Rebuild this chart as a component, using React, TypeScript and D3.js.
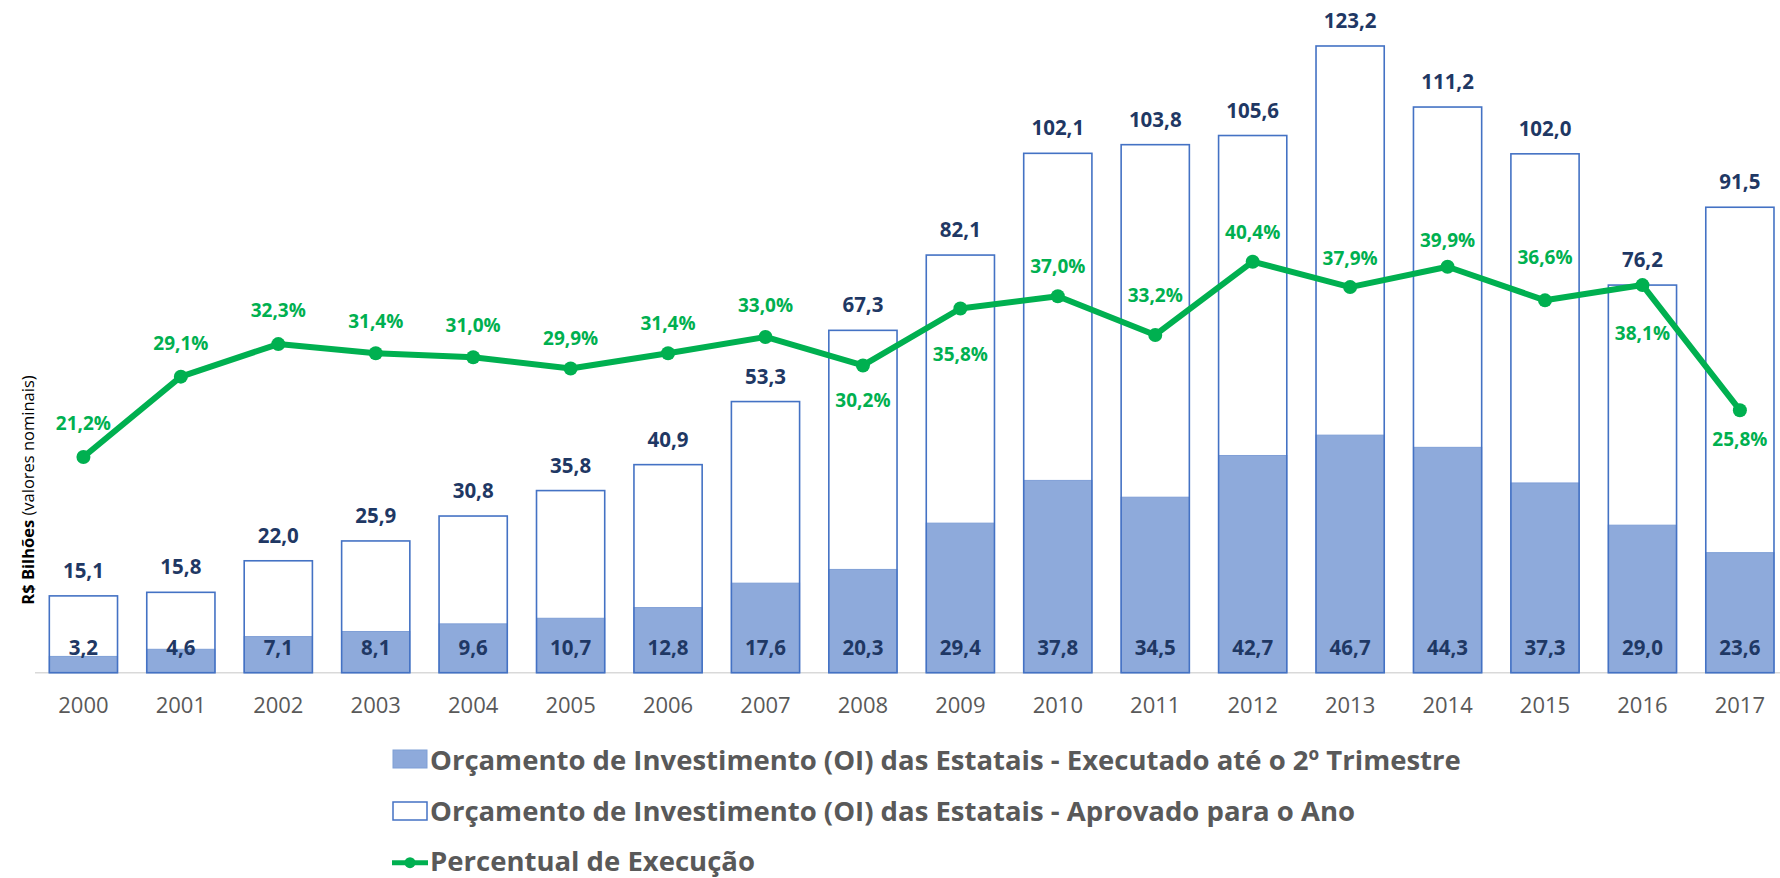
import React from 'react';
import * as d3 from 'd3';

// valores em R$ bilhões (nominais) e percentual de execução
const years = ['2000', '2001', '2002', '2003', '2004', '2005', '2006', '2007', '2008', '2009', '2010', '2011', '2012', '2013', '2014', '2015', '2016', '2017'];
const approved = [15.1, 15.8, 22.0, 25.9, 30.8, 35.8, 40.9, 53.3, 67.3, 82.1, 102.1, 103.8, 105.6, 123.2, 111.2, 102.0, 76.2, 91.5];
const executed = [3.2, 4.6, 7.1, 8.1, 9.6, 10.7, 12.8, 17.6, 20.3, 29.4, 37.8, 34.5, 42.7, 46.7, 44.3, 37.3, 29.0, 23.6];
const percent = [21.2, 29.1, 32.3, 31.4, 31.0, 29.9, 31.4, 33.0, 30.2, 35.8, 37.0, 33.2, 40.4, 37.9, 39.9, 36.6, 38.1, 25.8];

const legendLabels = [
  'Orçamento de Investimento (OI) das Estatais - Executado até o 2º Trimestre',
  'Orçamento de Investimento (OI) das Estatais - Aprovado para o Ano',
  'Percentual de Execução',
];

// where each % label sits relative to its marker (vertical offset of label centre)
const pctLabelDy = [-34, -34, -34, -32, -32, -31, -30, -32, 35, 46, -30, -40, -30, -29, -27, -43, 48, 29];

const W = 1780;
const H = 878;
const baseY = 672.7;
const topY = 11.4;

const FONT = "'Open Sans', 'Noto Sans', sans-serif";
const NAVY = '#1F3864';
const GREEN = '#00B050';
const BLUE = '#4472C4';
const FILL = '#8EAADB';
const GRAY = '#595959';

const ptBR = d3.formatLocale({ decimal: ',', thousands: '.', grouping: [3], currency: ['R$', ''] });
const f1 = ptBR.format('.1f');

const App = () => {
  const x = d3.scaleBand<string>()
    .domain(years)
    .range([34.7, 1788.6])
    .paddingInner(0.3)
    .paddingOuter(0.15);

  const y = d3.scaleLinear().domain([0, 130]).range([baseY, topY]);
  const yPct = d3.scaleLinear().domain([0, 65]).range([baseY, topY]);

  const bw = x.bandwidth();
  const cx = (d: string) => (x(d) as number) + bw / 2;

  const line = d3.line<number>()
    .x((_, i) => cx(years[i]))
    .y(d => yPct(d));

  return (
    <svg width={W} height={H} style={{ position: 'absolute', left: 0, top: 0, background: '#fff' }}
      fontFamily={FONT}>
      {/* eixo x */}
      <line x1={35} x2={W} y1={baseY} y2={baseY} stroke="#D9D9D9" strokeWidth={1.5} />

      {/* barras aprovadas (fundo branco) */}
      {years.map((yr, i) => (
        <rect key={'a' + yr} x={x(yr)} y={y(approved[i])} width={bw} height={baseY - y(approved[i])}
          fill="#fff" />
      ))}
      {/* barras executadas */}
      {years.map((yr, i) => (
        <rect key={'e' + yr} x={x(yr)} y={y(executed[i])} width={bw} height={baseY - y(executed[i])}
          fill={FILL} stroke="#7F9FD6" strokeWidth={1} />
      ))}
      {/* contorno das aprovadas */}
      {years.map((yr, i) => (
        <rect key={'o' + yr} x={x(yr)} y={y(approved[i])} width={bw} height={baseY - y(approved[i])}
          fill="none" stroke={BLUE} strokeWidth={1.6} />
      ))}

      {/* rótulos das barras */}
      {years.map((yr, i) => (
        <text key={'ta' + yr} x={cx(yr)} y={y(approved[i]) - 18} textAnchor="middle"
          fontSize={20.5} fontWeight={700} fill={NAVY}>{f1(approved[i])}</text>
      ))}
      {years.map((yr, i) => (
        <text key={'te' + yr} x={cx(yr)} y={baseY - 18} textAnchor="middle"
          fontSize={20.5} fontWeight={700} fill={NAVY}>{f1(executed[i])}</text>
      ))}

      {/* linha de percentual */}
      <path d={line(percent) || ''} fill="none" stroke={GREEN} strokeWidth={6} strokeLinejoin="round" />
      {percent.map((p, i) => (
        <circle key={'c' + i} cx={cx(years[i])} cy={yPct(p)} r={7} fill={GREEN} />
      ))}
      {percent.map((p, i) => (
        <text key={'tp' + i} x={cx(years[i])} y={yPct(p) + pctLabelDy[i] + 7} textAnchor="middle"
          fontSize={19} fontWeight={700} fill={GREEN}>{f1(p)}%</text>
      ))}

      {/* anos */}
      {years.map(yr => (
        <text key={'y' + yr} x={cx(yr)} y={713} textAnchor="middle" fontSize={22} fill={GRAY}>{yr}</text>
      ))}

      {/* título do eixo y */}
      <text transform="translate(34,490) rotate(-90)" textAnchor="middle" fontSize={16.5} fill="#000">
        <tspan fontWeight={700}>R$ Bilhões</tspan> (valores nominais)
      </text>

      {/* legenda */}
      <g fontSize={27.5} fontWeight={700} fill={GRAY}>
        <rect x={393} y={750} width={34} height={18} fill={FILL} stroke="#7F9FD6" strokeWidth={1} />
        <text x={430} y={770}>{legendLabels[0]}</text>
        <rect x={393} y={802} width={34} height={18} fill="#fff" stroke={BLUE} strokeWidth={1.5} />
        <text x={430} y={820.5}>{legendLabels[1]}</text>
        <line x1={392} x2={428} y1={862.7} y2={862.7} stroke={GREEN} strokeWidth={5} />
        <circle cx={410} cy={862.7} r={5.5} fill={GREEN} />
        <text x={430} y={871}>{legendLabels[2]}</text>
      </g>
    </svg>
  );
};

export default App;
